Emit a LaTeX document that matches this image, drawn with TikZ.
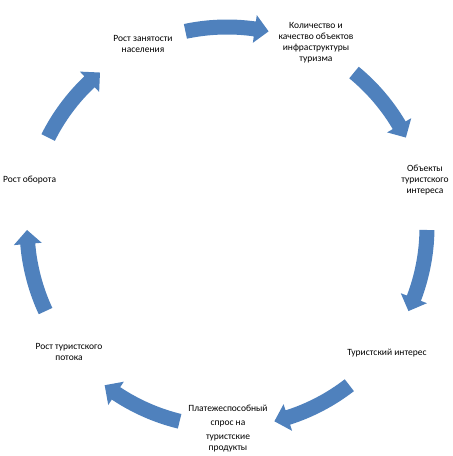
\documentclass[tikz,border=0pt]{standalone}
\usepackage{fontspec}
\setmainfont{Carlito}
\usetikzlibrary{calc}
\definecolor{arrblue}{HTML}{4F81BD}

\begin{document}
\begin{tikzpicture}[
  x=1pt, y=1pt,
  lbl/.style={align=center, font=\fontsize{9.5}{11}\selectfont, inner sep=1pt},
  cyc/.style={fill=arrblue}
]
\useasboundingbox (0,0) rectangle (453,456);
\coordinate (c) at (227,229);
\node[lbl] (zan) at (143,412.5) {Рост занятости\\населения};
\node[lbl] (kol) at (316,413) {Количество и\\качество объектов\\инфраструктуры\\туризма};
\node[lbl] (obj) at (425,275.5) {Объекты\\туристского\\интереса};
\node[lbl] (tint) at (387,103) {Туристский интерес};
\node[lbl] (plat) at (228,27.5) {Платежеспособный\\[3pt]спрос на\\[3pt]туристские\\продукты};
\node[lbl] (potok) at (69,104.5) {Рост туристского\\потока};
\node[lbl, anchor=west] (obor) at (2,276) {Рост оборота};
% curved block arrows round the cycle
\foreach \m in {90,38.57,-12.86,-64.29,-115.71,-167.14,-218.57} {
  \fill[cyc] ($(c)+(\m+12:207.5)$) arc[start angle=\m+12, end angle=\m-8, radius=207.5]
    -- ($(c)+(\m-8:214)$) -- ($(c)+(\m-12:200)$) -- ($(c)+(\m-8:186)$)
    -- ($(c)+(\m-8:192.5)$) arc[start angle=\m-8, end angle=\m+12, radius=192.5] -- cycle;
}
\end{tikzpicture}
\end{document}
